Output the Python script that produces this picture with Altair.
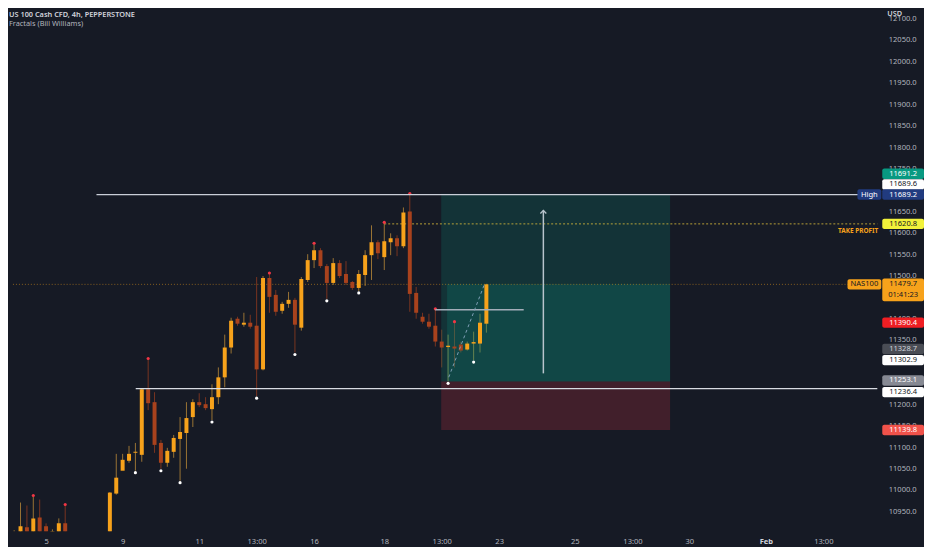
import json

import altair as alt
import pandas as pd

# 4h candles, bar number counted from the first full candle (weekends left out)
bar = list(range(-2, 74))
opens = [
    10890, 10885, 10885, 10912.7, 10890, 10935.9, 10915.0, 10898, 10895, 10922,
    10890, 10870, 10850, 10860, 10855, 10865,
    10880, 10991.5, 11044.8, 11068.0, 11086.5, 11081.9, 11234.9, 11204.8, 11109.7, 11063.4,
    11088.9, 11119.0, 11132.9, 11170.0, 11204.8, 11200.1, 11188.5, 11216.4, 11262.7, 11332.3,
    11399.5, 11385.6, 11390.2, 11383.2, 11281.3, 11494.5, 11455.1, 11418.0, 11434.2, 11443.5,
    11378.6, 11489.9, 11536.2, 11559.4, 11522.3, 11483.0, 11529.3, 11503.8, 11485.2, 11471.3,
    11501.5, 11547.8, 11578.0, 11543.2, 11578.0, 11587.2, 11568.7, 11649.8, 11459.7, 11404.1,
    11392.5, 11383.2, 11346.2, 11333.4, 11334.6, 11339.2, 11327.6, 11341.5, 11341.5, 11387.9,
]
highs = [
    10905, 10906, 10970.6, 10963.7, 10984.6, 10977.6, 10922.0, 10908, 10933.6, 10963.7,
    10898, 10885, 10870, 10880, 10875, 10895,
    10995, 11084.2, 11084.2, 11102.8, 11109.7, 11237.2, 11304.4, 11228.0, 11116.7, 11098.2,
    11128.3, 11170.0, 11204.8, 11211.7, 11225.6, 11216.4, 11246.5, 11285.9, 11362.4, 11401.8,
    11404.1, 11413.4, 11408.7, 11496.8, 11499.1, 11503.8, 11466.7, 11438.9, 11462.1, 11448.2,
    11496.8, 11550.1, 11573.3, 11564.1, 11527.0, 11540.9, 11536.2, 11533.9, 11487.5, 11513.1,
    11559.4, 11617.4, 11582.6, 11622.0, 11598.8, 11594.2, 11659.1, 11689.2, 11473.7, 11413.4,
    11411.1, 11420.3, 11374.0, 11362.4, 11390.4, 11346.0, 11346.2, 11369.3, 11411.1, 11481.0,
]
lows = [
    10870, 10875, 10870, 10865, 10875, 10880, 10880, 10888, 10885, 10875,
    10860, 10840, 10830, 10845, 10835, 10850,
    10870, 10989.0, 11047.0, 11063.4, 11045.0, 11065.7, 11186.2, 11086.5, 11049.5, 11054.1,
    11075.0, 11021.6, 11049.5, 11146.8, 11193.2, 11186.2, 11163.1, 11200.1, 11239.5, 11318.3,
    11383.2, 11380.9, 11376.3, 11218.7, 11279.0, 11413.4, 11406.4, 11411.1, 11425.0, 11320.7,
    11371.7, 11485.2, 11517.7, 11517.7, 11445.8, 11478.3, 11494.5, 11478.3, 11466.7, 11464.4,
    11476.0, 11489.9, 11538.6, 11513.1, 11547.8, 11545.5, 11564.1, 11415.7, 11399.5, 11387.9,
    11376.3, 11334.6, 11285.9, 11253.4, 11285.9, 11320.7, 11325.3, 11302.9, 11320.7, 11367.0,
]
closes = [
    10885, 10895, 10915.0, 10880, 10933.6, 10895, 10890, 10904, 10922.0, 10890,
    10870, 10850, 10860, 10855, 10865, 10880,
    10993.8, 11028.6, 11070.3, 11084.2, 11088.9, 11234.9, 11202.4, 11105.1, 11063.4, 11091.2,
    11121.3, 11135.2, 11167.7, 11204.8, 11197.8, 11190.9, 11216.4, 11262.7, 11332.3, 11394.8,
    11387.9, 11390.2, 11380.9, 11281.3, 11494.5, 11450.5, 11415.7, 11434.2, 11443.5, 11385.6,
    11492.2, 11536.2, 11559.4, 11522.3, 11483.0, 11529.3, 11499.1, 11483.0, 11471.3, 11503.8,
    11547.8, 11578.0, 11552.5, 11580.3, 11587.2, 11568.7, 11647.5, 11457.4, 11413.4, 11392.5,
    11380.9, 11346.2, 11332.3, 11336.5, 11329.9, 11325.3, 11341.5, 11345.0, 11390.2, 11479.7,
]

# Bill Williams fractals
fractal_up = [2, 7, 20, 39, 46, 57, 61, 65, 68]
fractal_down = [18, 22, 25, 30, 37, 43, 48, 53, 67, 71]

# time axis
tick_bars = [4, 16, 28, 37, 46, 57, 66, 75, 86.85, 95.9, 104.8, 116.8, 125.8]
tick_text = ["5", "9", "11", "13:00", "16", "18", "13:00", "23", "25", "13:00", "30", "Feb", "13:00"]
# price labels that are not hidden under a tag
price_ticks = [10950, 11000, 11050, 11100, 11150, 11200, 11350, 11400, 11500,
               11550, 11600, 11650, 11750, 11800, 11850, 11900, 11950, 12000, 12050, 12100]

# drawings
high_price = 11689.2
support_price = 11236.4
take_profit = 11620.8
last_price = 11479.7
swing_price = 11420.3
entry_price = 11253.1
target_price = 11691.2
stop_price = 11139.8
box_bars = [65.92, 66.84, 101.79]
arrow_bar, arrow_from, arrow_to = 81.93, 11272.0, 11652.0
trend_bars, trend_prices = [67.1, 72.7], [11263.0, 11480.0]

# price scale tags
tag_prices = [11691.2, 11689.6, 11689.2, 11620.8, 11390.4, 11328.7, 11302.9, 11253.1, 11236.4, 11139.8]
countdown = "01:41:23"

# ---- style ----
W, H = 880, 524
BG = "#161a25"
FONT = "Noto Sans"
FS = 7.6
AXIS_INK = "#b2b5be"
UP, DOWN = "#f7a21b", "#a8421d"
UP_WICK, DOWN_WICK = "#9a7434", "#7a3420"
X_MIN, X_MAX = -1.185, 134.26
XS = alt.Scale(domain=[X_MIN, X_MAX], nice=False, zero=False)
YS = alt.Scale(domain=[10903.4, 12118.1], nice=False, zero=False)
tag_fill = ["#089981", "#ffffff", "#213b7f", "#f2f23a", "#f01e23", "#4a4d55", "#ffffff", "#868993", "#ffffff", "#f0524a"]
tag_ink = ["#ffffff", "#131722", "#ffffff", "#131722", "#ffffff", "#d1d4dc", "#131722", "#ffffff", "#131722", "#ffffff"]
tag_shift = [-20, -10, 0, 0, 0, 0, 0, -1, 3.5, 0]

label_expr = f"{json.dumps(tick_text)}[indexof({json.dumps(tick_bars)}, datum.value)]"
feb = "datum.value == 116.8"
XAX = alt.Axis(
    values=tick_bars, labelExpr=label_expr, ticks=False, domain=False, grid=False,
    labelFont=FONT, labelFontSize=FS, labelPadding=10, labelBaseline="middle",
    labelOverlap=False, labelFlush=False,
    labelColor={"condition": {"test": feb, "value": "#d1d4dc"}, "value": AXIS_INK},
    labelFontWeight={"condition": {"test": feb, "value": "bold"}, "value": "normal"})
YAX = alt.Axis(
    orient="right", values=price_ticks, format=".1f", ticks=False, domain=False, grid=False,
    labelAlign="left", labelPadding=6, labelColor=AXIS_INK, labelFont=FONT, labelFontSize=FS,
    labelOverlap=False, labelFlush=False)

df = pd.DataFrame({"bar": bar, "open": opens, "high": highs, "low": lows, "close": closes})


def row(**kw):
    return alt.Chart(pd.DataFrame([kw]))


# every layer carries the same axis, so Vega-Lite merges them into one
def xq(field):
    return alt.X(f"{field}:Q", scale=XS, axis=XAX, title=None)


def yq(field):
    return alt.Y(f"{field}:Q", scale=YS, axis=YAX, title=None)


def hline(x0, x1, price, **style):
    return row(a=x0, b=x1, p=price).mark_rule(**style).encode(x=xq("a"), x2="b", y=yq("p"))


def tag(price, text, fill, ink, shift=0, left=880, right=922, h=10.5):
    box = row(p=price).mark_rect(color=fill, cornerRadius=2, yOffset=shift - h / 2,
                                 y2Offset=shift + h / 2).encode(
        x=alt.value(left), x2=alt.value(right), y=yq("p"), y2="p")
    label = row(p=price).mark_text(text=text, color=ink, font=FONT, fontSize=FS, yOffset=shift,
                                   align="center", baseline="middle").encode(
        x=alt.value((left + right) / 2), y=yq("p"))
    return [box, label]


is_up = alt.datum.close >= alt.datum.open

wicks = alt.Chart(df).mark_rule(strokeWidth=1, clip=True).encode(
    x=xq("bar"), y=yq("low"), y2="high",
    color=alt.when(is_up).then(alt.value(UP_WICK)).otherwise(alt.value(DOWN_WICK)),
)
bodies = alt.Chart(df).mark_bar(size=4, clip=True).encode(
    x=xq("bar"), y=yq("open"), y2="close",
    color=alt.when(is_up).then(alt.value(UP)).otherwise(alt.value(DOWN)),
)
frac_hi = alt.Chart(df[df["bar"].isin(fractal_up)]).mark_point(
    filled=True, size=10, opacity=1, color="#f23645", yOffset=-1).encode(x=xq("bar"), y=yq("high"))
frac_lo = alt.Chart(df[df["bar"].isin(fractal_down)]).mark_point(
    filled=True, size=10, opacity=1, color="#ffffff", yOffset=2).encode(x=xq("bar"), y=yq("low"))

# long position box
box_target = row(a=box_bars[0], b=box_bars[2], lo=entry_price, hi=target_price).mark_rect(
    color="#089981", opacity=0.2).encode(x=xq("a"), x2="b", y=yq("lo"), y2="hi")
box_open = row(a=box_bars[1], b=box_bars[2], lo=entry_price, hi=last_price).mark_rect(
    color="#089981", opacity=0.2).encode(x=xq("a"), x2="b", y=yq("lo"), y2="hi")
box_stop = row(a=box_bars[0], b=box_bars[2], lo=stop_price, hi=entry_price).mark_rect(
    color="#f23645", opacity=0.2).encode(x=xq("a"), x2="b", y=yq("lo"), y2="hi")

last_line = hline(X_MIN, X_MAX, last_price, color=UP, opacity=0.5, strokeWidth=1, strokeDash=[1, 2])
tp_line = hline(57.0, X_MAX, take_profit, color="#d4b73a", opacity=0.85, strokeWidth=1, strokeDash=[2, 2])
high_line = hline(11.9, X_MAX, high_price, color="#c9ced8", strokeWidth=1.3)
support_line = hline(18.05, X_MAX, support_price, color="#d8dbe2", strokeWidth=1.5)
swing_line = hline(64.99, 78.85, swing_price, color="#a3adb9", strokeWidth=1.5)

arrow = row(a=arrow_bar, lo=arrow_from, hi=arrow_to).mark_rule(color="#b8c4cc", strokeWidth=1.5).encode(
    x=xq("a"), y=yq("lo"), y2="hi")
arrow_head = row(a=arrow_bar, hi=arrow_to).mark_point(
    shape="M -1 1 L 0 0 L 1 1", filled=False, size=36, strokeWidth=1.3, color="#b8c4cc", opacity=1).encode(
    x=xq("a"), y=yq("hi"))
trend = row(a=trend_bars[0], b=trend_bars[1], lo=trend_prices[0], hi=trend_prices[1]).mark_rule(
    color="#7f9fb5", strokeWidth=1, strokeDash=[3, 3]).encode(x=xq("a"), x2="b", y=yq("lo"), y2="hi")

tp_text = row(p=take_profit).mark_text(
    text="TAKE PROFIT", color=UP, font=FONT, fontSize=6.5, fontWeight="bold", align="right",
    baseline="middle", yOffset=7).encode(x=alt.value(876), y=yq("p"))

layers = [wicks, box_target, box_open, box_stop, last_line, tp_line, bodies, frac_hi, frac_lo,
          high_line, support_line, swing_line, trend, arrow, arrow_head, tp_text]

for p, fill, ink, shift in zip(tag_prices, tag_fill, tag_ink, tag_shift):
    layers += tag(p, f"{p:.1f}", fill, ink, shift)

# last price tag with the candle countdown below it
layers += tag(last_price, "", UP, "#131722", shift=5.5, h=23)
layers += tag(last_price, f"{last_price:.1f}", UP, "#131722", shift=0, h=0)
layers += tag(last_price, countdown, UP, "#131722", shift=11, h=0)
layers += tag(last_price, "NAS100", UP, "#131722", left=845, right=879)
layers += tag(high_price, "High", "#213b7f", "#ffffff", left=855, right=879)

header = row(v=0).mark_text(
    text="US 100 Cash CFD, 4h, PEPPERSTONE", color="#d1d4dc", font=FONT, fontSize=7.4,
    fontWeight=600, align="left", baseline="middle").encode(x=alt.value(1), y=alt.value(4))
study = row(v=0).mark_text(
    text="Fractals (Bill Williams)", color=AXIS_INK, font=FONT, fontSize=7.4,
    align="left", baseline="middle").encode(x=alt.value(1), y=alt.value(13))
currency = row(v=0).mark_text(
    text="USD", color="#d1d4dc", font=FONT, fontSize=7.4, fontWeight=600, align="left",
    baseline="middle").encode(x=alt.value(885), y=alt.value(3))
layers += [header, study, currency]

chart = alt.layer(*layers).properties(
    width=W, height=H, background=BG, padding=0,
).configure_view(strokeWidth=0)

chart.save("out.html", embed_options={"renderer": "svg", "actions": False})
